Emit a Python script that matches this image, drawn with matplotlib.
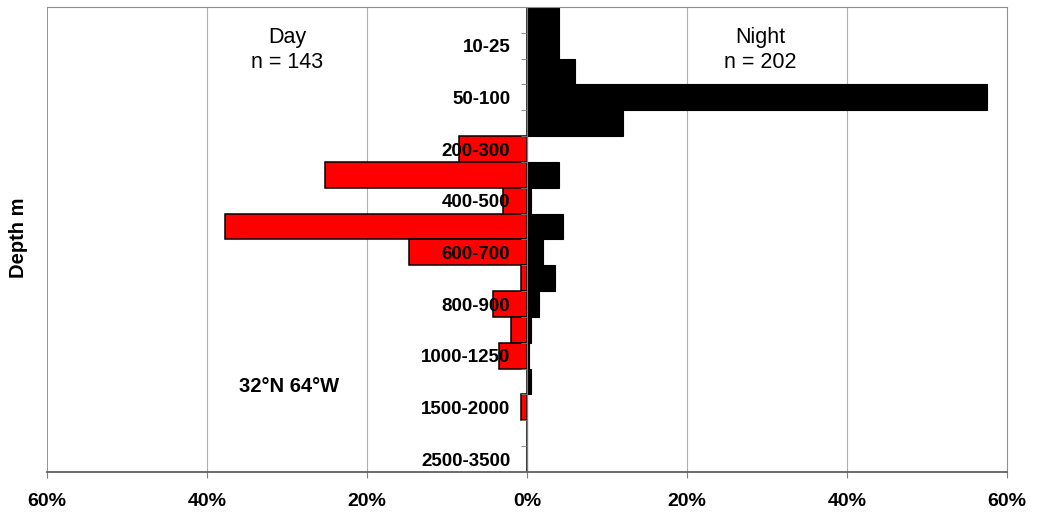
import matplotlib
matplotlib.use("Agg")
import matplotlib.pyplot as plt
import numpy as np

depths = ["0-10", "10-25", "25-50", "50-100", "100-200", "200-300", "300-400",
          "400-500", "500-600", "600-700", "700-800", "800-900", "900-1000",
          "1000-1250", "1250-1500", "1500-2000", "2000-2500", "2500-3500"]
night_pct = [4, 4, 6, 57.5, 12, 0, 4, 0.5, 4.5, 2, 3.5, 1.5, 0.5, 0.25, 0.5, 0, 0, 0]
day_pct = [0, 0, 0, 0, 0, 8.5, 25.25, 3, 37.75, 14.75, 0.75, 4.25, 2, 3.5, 0, 0.75, 0, 0]
xticks = [-60, -40, -20, 0, 20, 40, 60]

plt.rcParams['font.family'] = ['Liberation Sans', 'DejaVu Sans']

fig = plt.figure(figsize=(10.39, 5.17), dpi=100)
ax = fig.add_axes([47/1039, 1-472/517, 960/1039, 465/517])

y = np.arange(len(depths))
for xv in xticks:
    if xv not in (-60, 0, 60):
        ax.axvline(xv, color='#b0b0b0', lw=0.8, zorder=0)
ax.axvline(-60, color='#808080', lw=1.2, zorder=0)

ax.barh(y, night_pct, height=1.0, color='black', edgecolor='black', lw=0.8, zorder=1)
ax.barh(y, [-v for v in day_pct], height=1.0, color='#ff0000', edgecolor='black', lw=1.1, zorder=1)

ax.set_xlim(-60, 60)
ax.set_ylim(len(depths) - 0.5, -0.5)

ax.spines['left'].set_position(('data', 0))
ax.spines['left'].set_color('#808080')
ax.spines['top'].set_color('#909090')
ax.spines['right'].set_color('#909090')
ax.spines['bottom'].set_color('#606060')
ax.spines['bottom'].set_linewidth(1.3)

ax.set_yticks(y[1::2])
ax.set_yticklabels([depths[i] for i in y[1::2]], fontsize=13.5, fontweight='bold')
ax.set_yticks(np.arange(0.5, len(depths) - 1, 1.0), minor=True)
ax.tick_params(axis='y', which='major', length=0, pad=12)
ax.tick_params(axis='y', which='minor', length=4, color='#808080', direction='out')

ax.set_xticks(xticks)
ax.set_xticklabels([f"{abs(v)}%" for v in xticks], fontsize=14, fontweight='bold')
ax.tick_params(axis='x', length=4, color='#808080', pad=11)

fig.text(287/1039, 1-50/517, "Day\nn = 143", fontsize=15.5, ha='center', va='center', linespacing=1.3)
fig.text(760/1039, 1-50/517, "Night\nn = 202", fontsize=15.5, ha='center', va='center', linespacing=1.3)
fig.text(289/1039, 1-387/517, "32°N 64°W", fontsize=14.5, fontweight='bold', ha='center', va='center')
fig.text(18/1039, 1-238/517, "Depth m", fontsize=14.5, fontweight='bold', ha='center', va='center',
         rotation=90)

fig.savefig("out.png", dpi=100)
